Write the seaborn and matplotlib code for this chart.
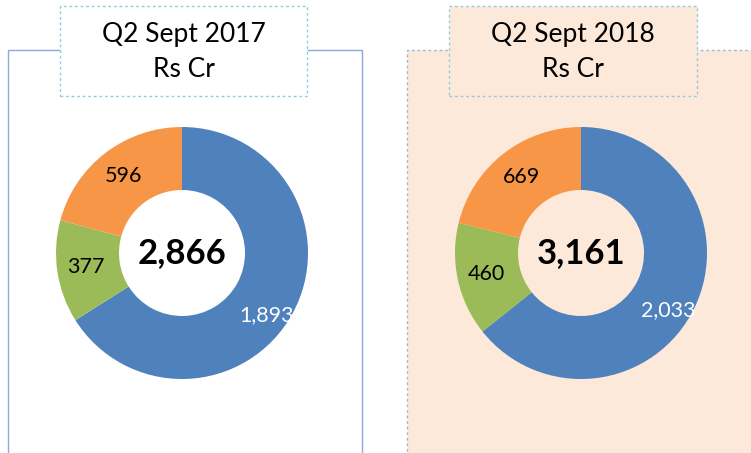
import numpy as np
import matplotlib.pyplot as plt
import seaborn as sns
from matplotlib.patches import Rectangle

# Chart data
segments = ["Segment A", "Segment B", "Segment C"]
values_2017 = [1893, 377, 596]
values_2018 = [2033, 460, 669]
titles = ["Q2 Sept 2017\nRs Cr", "Q2 Sept 2018\nRs Cr"]
totals = ["2,866", "3,161"]

colors = ["#4f81bd", "#9bbb59", "#f79646"]
label_colors = ["white", "black", "black"]

sns.set_theme(style="white")
plt.rcParams["font.family"] = ["Lato", "DejaVu Sans"]

W, H = 751, 453
fig = plt.figure(figsize=(W / 100, H / 100), dpi=100)
fig.patch.set_facecolor("white")


def px_rect(x0, y0, x1, y1, **kw):
    # rectangle in pixel coords (y from top)
    r = Rectangle((x0 / W, 1 - y1 / H), (x1 - x0) / W, (y1 - y0) / H,
                  transform=fig.transFigure, **kw)
    fig.patches.append(r)


# Panels
px_rect(8, 50, 362, 470, facecolor="white", edgecolor="#8eaadb", lw=1.0, zorder=0)
px_rect(407, 50, 770, 470, facecolor="#fde9d9", edgecolor="#9cb8d8", lw=1.0,
        linestyle=(0, (2, 2)), zorder=0)

# Title boxes
px_rect(60, 6, 307, 96, facecolor="white", edgecolor="#92cddc", lw=1.0,
        linestyle=(0, (2, 2)), zorder=1)
px_rect(449, 6, 697, 96, facecolor="#fde9d9", edgecolor="#92cddc", lw=1.0,
        linestyle=(0, (2, 2)), zorder=1)

fig.text(183.5 / W, 1 - 52 / H, titles[0], ha="center", va="center",
         fontsize=19, linespacing=1.5, color="black", zorder=3)
fig.text(573 / W, 1 - 52 / H, titles[1], ha="center", va="center",
         fontsize=19, linespacing=1.5, color="black", zorder=3)

centers = [(182, 253), (581, 253)]
radius = 126
datasets = [values_2017, values_2018]

for (cx, cy), vals, total in zip(centers, datasets, totals):
    ax = fig.add_axes([(cx - radius) / W, 1 - (cy + radius) / H,
                       2 * radius / W, 2 * radius / H])
    ax.set_zorder(2)
    ax.patch.set_visible(False)
    wedges, texts = ax.pie(vals, colors=colors, startangle=90, counterclock=False,
                           labels=[f"{v:,}" for v in vals], labeldistance=0.77,
                           wedgeprops=dict(width=0.5, linewidth=0),
                           textprops=dict(fontsize=15.5))
    for t, c in zip(texts, label_colors):
        t.set_color(c)
        t.set_ha("center")
        t.set_va("center")
    # push the large segment label outward like the reference
    x, y = texts[0].get_position()
    ang = np.arctan2(y, x) - 0.13
    texts[0].set_position((0.83 * np.cos(ang), 0.83 * np.sin(ang)))
    ax.text(0, 0, total, ha="center", va="center", fontsize=25,
            fontweight="bold", color="black")
    ax.set_xlim(-1, 1)
    ax.set_ylim(-1, 1)
    ax.set_aspect("equal")
    ax.axis("off")

fig.savefig("out.png", dpi=100)
